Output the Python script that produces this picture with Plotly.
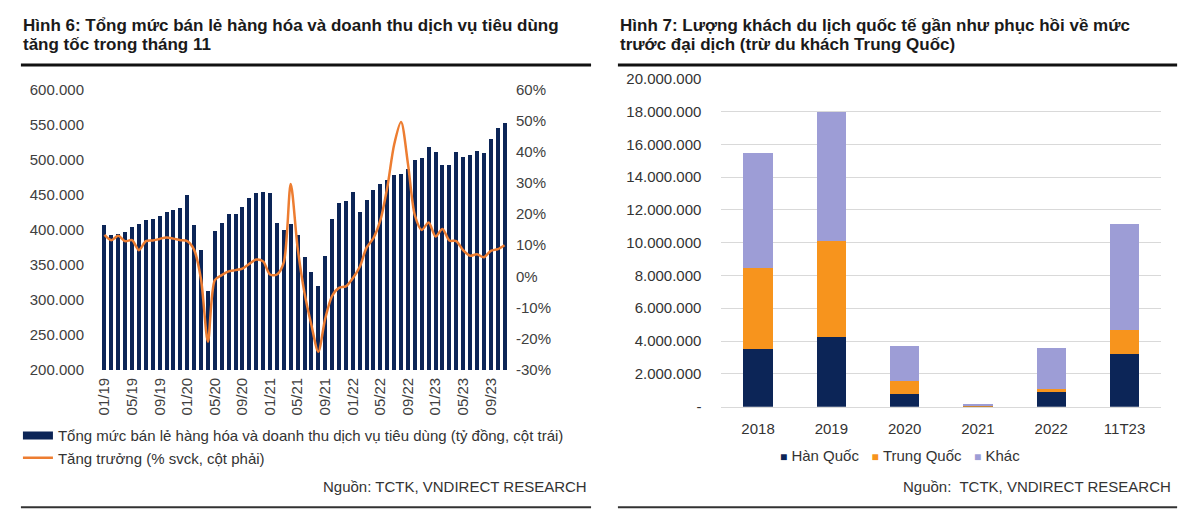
import plotly.graph_objects as go

# ---------------- Data: left chart (Hình 6) ----------------
months = [f"{m:02d}/{y}" for y in range(19, 24) for m in range(1, 13)][:59]
tick_labels_left = ["01/19", "05/19", "09/19", "01/20", "05/20", "09/20", "01/21", "05/21",
                    "09/21", "01/22", "05/22", "09/22", "01/23", "05/23", "09/23"]
retail = [406500, 391700, 393500, 396000, 403700, 408000, 413000, 414700, 420000, 424800,
          428000, 430800, 450000, 406500, 371000, 312000, 398000, 409600, 422500, 422500,
          431700, 445500, 452400, 453400, 452400, 409600, 399600, 407400, 392700, 361000,
          339700, 320000, 362800, 415600, 437700, 440400, 453400, 424800, 441800, 457000,
          464800, 470000, 477700, 479000, 487000, 499700, 501600, 517700, 511200, 491400,
          491400, 511200, 503000, 506200, 512200, 508500, 529200, 544300, 552100]
growth = [13.3, 11.6, 13.0, 11.3, 11.6, 8.4, 11.3, 11.5, 12.0, 12.5,
          12.1, 11.6, 11.3, 8.5, -1.0, -21.0, -1.2, 0.4, 1.6, 2.0,
          2.5, 4.0, 5.4, 4.8, 0.6, 0.6, 4.5, 29.6, 9.2, -5.3,
          -15.6, -24.2, -13.6, -6.3, -3.7, -3.2, -0.6, 3.0, 9.2, 12.3,
          18.0, 28.5, 42.3, 49.5, 36.1, 19.6, 14.9, 17.3, 12.8, 15.2,
          11.5, 11.3, 8.4, 6.6, 7.1, 6.1, 8.2, 8.7, 10.0]
pct_ticks = [-30, -20, -10, 0, 10, 20, 30, 40, 50, 60]
pct_tick_text = ["-30%", "-20%", "-10%", "0%", "10%", "20%", "30%", "40%", "50%", "60%"]

# ---------------- Data: right chart (Hình 7) ----------------
years = ["2018", "2019", "2020", "2021", "2022", "11T23"]
han_quoc = [3500000, 4250000, 750000, 30000, 950000, 3200000]
trung_quoc = [4950000, 5840000, 830000, 40000, 100000, 1500000]
khac = [7020000, 7870000, 2100000, 90000, 2550000, 6460000]
right_ticks = [0, 2000000, 4000000, 6000000, 8000000, 10000000, 12000000, 14000000,
               16000000, 18000000, 20000000]
right_tick_text = ["-", "2.000.000", "4.000.000", "6.000.000", "8.000.000", "10.000.000",
                   "12.000.000", "14.000.000", "16.000.000", "18.000.000", "20.000.000"]

NAVY = "#0c2557"
ORANGE_L = "#ED7D31"
ORANGE_R = "#F7941D"
LAVENDER = "#9d9dd6"
FONT = "Liberation Sans, Arial, sans-serif"
TXT = "#404040"

W, H = 1200, 523
def px(x):
    return x / W
def py(y):
    return 1 - y / H

fig = go.Figure()

idx = list(range(len(months)))
fig.add_trace(go.Bar(x=idx, y=retail, marker=dict(color=NAVY, line=dict(width=0)), width=0.58,
                     name="Tổng mức bán lẻ hàng hóa và doanh thu dịch vụ tiêu dùng (tỷ đồng, cột trái)",
                     xaxis="x", yaxis="y", showlegend=False, hovertext=months))
fig.add_trace(go.Scatter(x=[None], y=[None], mode="lines", line=dict(color=NAVY, width=8),
                         name="Tổng mức bán lẻ hàng hóa và doanh thu dịch vụ tiêu dùng (tỷ đồng, cột trái)",
                         xaxis="x", yaxis="y", legend="legend"))
fig.add_trace(go.Scatter(x=idx, y=growth, mode="lines",
                         line=dict(color=ORANGE_L, width=2.5, shape="spline", smoothing=0.8),
                         name="Tăng trưởng (% svck, cột phải)", xaxis="x", yaxis="y2",
                         legend="legend3", hovertext=months))

series_r = [("Hàn Quốc", han_quoc, NAVY), ("Trung Quốc", trung_quoc, ORANGE_R), ("Khác", khac, LAVENDER)]
for name, vals, col in series_r:
    fig.add_trace(go.Bar(x=years, y=vals, name=name, marker=dict(color=col, line=dict(width=0)),
                         width=0.4, xaxis="x3", yaxis="y3", showlegend=False))

tickvals_left = [months.index(t) for t in tick_labels_left]

fig.update_layout(
    width=W, height=H, margin=dict(l=0, r=0, t=0, b=0),
    paper_bgcolor="white", plot_bgcolor="white",
    separators=",.", barmode="stack",
    font=dict(family=FONT, size=15, color=TXT),
    xaxis=dict(domain=[px(95.5), px(504.5)], range=[-0.5, 58.5], tickvals=tickvals_left,
               ticktext=tick_labels_left, tickangle=-90, showgrid=False, zeroline=False,
               showline=False, ticks="", anchor="y", ticklabelstandoff=4,
               tickfont=dict(size=15, color=TXT)),
    yaxis=dict(domain=[py(373), py(83)], range=[200000, 600000], dtick=50000, tickformat=",.0f",
               showgrid=False, zeroline=False, showline=False, ticks="", anchor="x",
               ticklabelstandoff=16, tickfont=dict(size=15, color=TXT)),
    yaxis2=dict(overlaying="y", side="right", range=[-30, 60], tickvals=pct_ticks,
                ticktext=pct_tick_text, showgrid=False, zeroline=False, showline=False, ticks="",
                anchor="x", ticklabelstandoff=7, tickfont=dict(size=15, color=TXT)),
    xaxis3=dict(domain=[px(719), px(1161)], anchor="y3", showgrid=False, zeroline=False,
                showline=True, linecolor="#d9d9d9", linewidth=1, ticks="", ticklabelstandoff=8,
                tickfont=dict(size=15, color="#333333")),
    yaxis3=dict(domain=[py(411), py(72)], anchor="x3", range=[0, 20000000],
                tickvals=right_ticks, ticktext=right_tick_text, showgrid=True,
                gridcolor="#d9d9d9", gridwidth=1, zeroline=False, showline=False, ticks="",
                ticklabelstandoff=19, tickfont=dict(size=15, color="#333333")),
    legend=dict(x=px(12), y=py(441), xanchor="left", yanchor="middle", orientation="v",
                font=dict(size=15, color="#333333"), bgcolor="rgba(0,0,0,0)", itemwidth=30),
    legend3=dict(x=px(12), y=py(464), xanchor="left", yanchor="middle", orientation="v",
                 font=dict(size=15, color="#333333"), bgcolor="rgba(0,0,0,0)", itemwidth=30),
)

# legend for right chart, built from the series names/colours
sep = "\u00a0\u00a0\u00a0"
legend_r = sep.join(f"<span style='color:{c};font-size:12px'>■</span>\u00a0{n}" for n, _, c in series_r)
fig.add_annotation(x=px(898), y=py(461), xref="paper", yref="paper", text=legend_r, showarrow=False,
                   xanchor="center", yanchor="middle", font=dict(family=FONT, size=15, color="#333333"))

title_font = dict(family=FONT, size=17, color="#1a1a1a")
annots = [
    (15, 17, "<b>Hình 6: Tổng mức bán lẻ hàng hóa và doanh thu dịch vụ tiêu dùng</b>"),
    (15, 37, "<b>tăng tốc trong tháng 11</b>"),
    (615, 17, "<b>Hình 7: Lượng khách du lịch quốc tế gần như phục hồi về mức</b>"),
    (615, 37, "<b>trước đại dịch (trừ du khách Trung Quốc)</b>"),
]
for x, y, t in annots:
    fig.add_annotation(x=px(x), y=py(y), xref="paper", yref="paper", text=t, showarrow=False,
                       xanchor="left", yanchor="middle", font=title_font)
for x, t in [(586, "Nguồn: TCTK, VNDIRECT RESEARCH"), (1173, "Nguồn:\u00a0 TCTK, VNDIRECT RESEARCH")]:
    fig.add_annotation(x=px(x), y=py(494), xref="paper", yref="paper", text=t, showarrow=False,
                       xanchor="right", yanchor="middle", font=dict(family=FONT, size=15, color="#333333"))

for x0, x1, y, w, c in [(15, 588, 58, 3, "#111111"), (615, 1177, 58, 3, "#111111"),
                        (15, 588, 515, 2, "#333333"), (615, 1177, 515, 2, "#333333")]:
    fig.add_shape(type="line", xref="paper", yref="paper", x0=px(x0), x1=px(x1), y0=py(y), y1=py(y),
                  line=dict(color=c, width=w))

fig.write_html("out.html")
